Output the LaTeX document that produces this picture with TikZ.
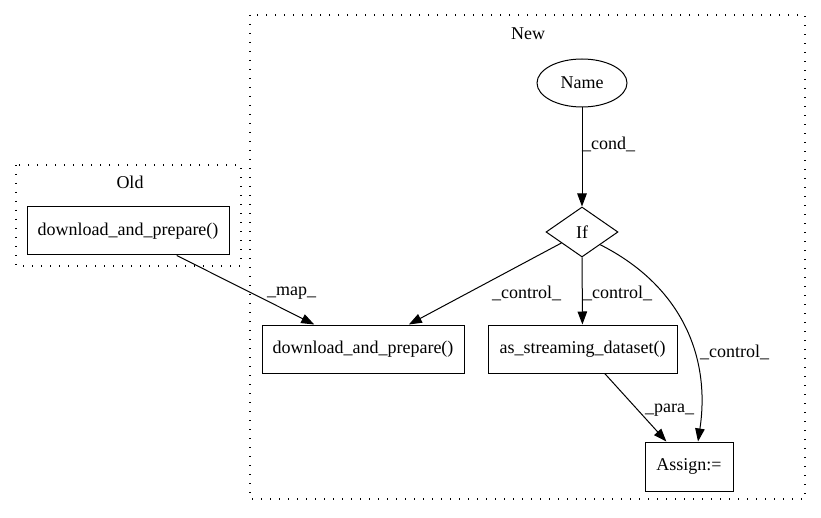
\documentclass[tikz,border=0pt]{standalone}
\usepackage{fontspec}
\setmainfont{Liberation Serif}
\usetikzlibrary{arrows.meta,shapes.geometric}
\begin{document}
\begin{tikzpicture}[x=1pt,y=-1pt,
  every node/.style={font=\fontsize{18}{22}\selectfont},
  box/.style={draw, line width=1pt, rectangle, inner sep=0pt, minimum height=48pt},
  cluster/.style={draw, line width=1.2pt, dash pattern=on 1.2pt off 7.8pt},
  edge/.style={draw, line width=1pt, -{Triangle[length=13pt,width=9.5pt]}},
  lbl/.style={inner sep=0pt, anchor=west}]
\useasboundingbox (0,0) rectangle (821,518);

% clusters
\draw[cluster] (16,165) rectangle (241,266);
\draw[cluster] (250,15) rectangle (805,499);
\node (oldtitle) at (130,182) {Old};
\node (newtitle) at (528,34) {New};

% nodes
\node[box, minimum width=202pt] (oldDL) at (128,231) {download\_and\_prepare()};
\node[box, minimum width=202pt] (newDL) at (363,349) {download\_and\_prepare()};
\node[box, minimum width=189pt] (stream) at (582.5,349) {as\_streaming\_dataset()};
\node[box, minimum width=88pt, minimum height=49pt] (assign) at (689,466.5) {Assign:=};
\node[draw, line width=1pt, ellipse, inner sep=0pt, minimum width=90pt, minimum height=48pt] (name) at (582,83) {Name};
\node[draw, line width=1pt, diamond, aspect=1.44, inner sep=0pt, minimum width=72pt, minimum height=50pt] (if) at (582,232) {If};

% edges
\draw[edge] (name) -- (if);
\draw[edge] (oldDL) -- (newDL);
\draw[edge] (if) -- (newDL);
\draw[edge] (if) -- (stream);
\draw[edge] (stream) -- (assign);
\draw[edge] (if.south east) .. controls (680,285) and (711,355) .. ([xshift=9pt]assign.north);

% edge labels
\node[lbl] (condL) at (582,144) {\_cond\_};
\node[lbl] (mapL) at (267,293) {\_map\_};
\node[lbl] (ctlA) at (492,293) {\_control\_};
\node[lbl] (ctlB) at (583,293) {\_control\_};
\node[lbl] (ctlC) at (700,352) {\_control\_};
\node[lbl] (paraL) at (645,410) {\_para\_};
\end{tikzpicture}
\end{document}
